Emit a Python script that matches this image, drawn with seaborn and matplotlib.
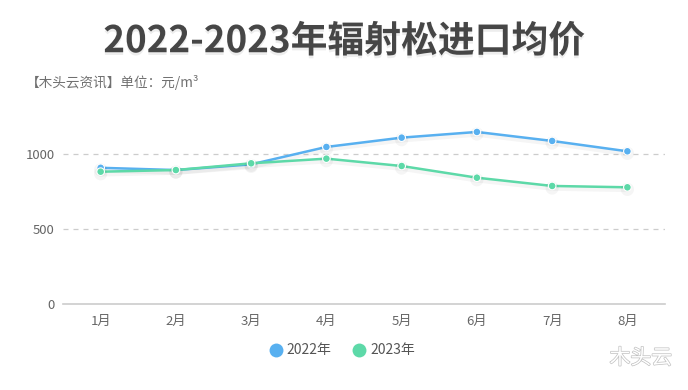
import matplotlib
matplotlib.use("Agg")
import matplotlib.pyplot as plt
import matplotlib.patheffects as pe
import seaborn as sns
import pandas as pd

# Data
months = ["1月", "2月", "3月", "4月", "5月", "6月", "7月", "8月"]
price_2022 = [908, 893, 931, 1047, 1109, 1147, 1087, 1018]
price_2023 = [882, 893, 938, 969, 920, 842, 787, 778]
series_names = ["2022年", "2023年"]
colors = ["#58b0f0", "#5dd9a8"]

df = pd.DataFrame({"month": months * 2,
                   "price": price_2022 + price_2023,
                   "year": [series_names[0]] * 8 + [series_names[1]] * 8})
df["pos"] = [months.index(m) for m in df["month"]]

sns.set_style("white")
plt.rcParams["font.family"] = ["Noto Sans CJK SC", "DejaVu Sans"]

fig = plt.figure(figsize=(6.88, 3.9), dpi=100)
ax = fig.add_axes([0.0916, 0.2205, 0.875, 0.4808])

shadow = [pe.SimpleLineShadow(offset=(0, -1.5), shadow_color="#000000", alpha=0.04, linewidth=4), pe.Normal()]
for name, color in zip(series_names, colors):
    sub = df[df["year"] == name]
    sns.lineplot(data=sub, x="pos", y="price", ax=ax, color=color, linewidth=1.8,
                 marker="o", markersize=5.5, markeredgecolor="white", markeredgewidth=0.8,
                 path_effects=shadow, legend=False)

ax.set_xlim(-0.5, len(months) - 0.5)
ax.set_ylim(0, 1250)
ax.set_xticks(range(len(months)))
ax.set_xticklabels(months)
ax.set_yticks([0, 500, 1000])
ax.set_xlabel("")
ax.set_ylabel("")
for y in [500, 1000]:
    ax.axhline(y, color="#cccccc", linewidth=0.9, linestyle=(0, (4, 4)), zorder=0)
for side in ["top", "right", "left"]:
    ax.spines[side].set_visible(False)
ax.spines["bottom"].set_color("#cccccc")
ax.spines["bottom"].set_linewidth(1.2)
ax.tick_params(axis="x", colors="#cccccc", length=5, width=1, labelcolor="#666666", labelsize=9.5, pad=3)
ax.tick_params(axis="y", length=0, labelcolor="#666666", labelsize=9.5, pad=6)

# title and subtitle
title_shadow = [pe.SimplePatchShadow(offset=(0, -2), shadow_rgbFace="#000000", alpha=0.07), pe.Normal()]
fig.text(0.5, 0.893, "2022-2023年辐射松进口均价", ha="center", va="center", fontsize=26.5,
         fontweight="bold", color="#464646", path_effects=title_shadow)
fig.text(0.037, 0.789, "【木头云资讯】单位：元/m³", ha="left", va="center", fontsize=9.8, color="#707070")

# legend
for i, (name, color) in enumerate(zip(series_names, colors)):
    x0 = 0.401 + i * 0.121
    fig.lines.append(plt.Line2D([x0], [0.103], marker="o", markersize=10, color=color,
                                markeredgewidth=0, transform=fig.transFigure, linestyle="none"))
    fig.text(x0 + 0.016, 0.103, name, ha="left", va="center", fontsize=10, color="#555555")

# watermark
fig.text(0.977, 0.082, "木头云", ha="right", va="center", fontsize=15, color="white",
         path_effects=[pe.withStroke(linewidth=1.0, foreground="#c0c0c0")])

fig.savefig("out.png", dpi=100)
